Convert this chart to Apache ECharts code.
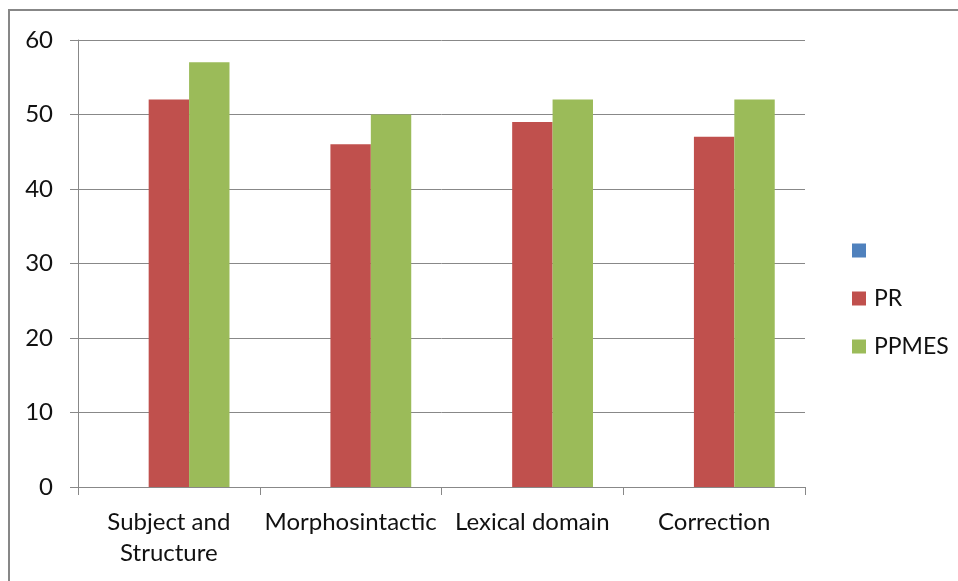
<!DOCTYPE html>
<html>
<head>
<meta charset="utf-8">
<script src="https://cdn.jsdelivr.net/npm/echarts@6/dist/echarts.min.js"></script>
<style>
html,body{margin:0;padding:0;background:#fff;}
#c{width:958px;height:581px;}
</style>
</head>
<body>
<div id="c"></div>
<script>
var categories = ['Subject and\nStructure', 'Morphosintactic', 'Lexical domain', 'Correction'];
var blankSeries = [null, null, null, null];
var prValues = [52, 46, 49, 47];
var ppmesValues = [57, 50, 52, 52];
var yTicks = {min: 0, max: 60, interval: 10};

var font = 'Lato, "Open Sans", sans-serif';
var chart = echarts.init(document.getElementById('c'), null, {renderer: 'canvas'});
chart.setOption({
  animation: false,
  backgroundColor: '#fff',
  graphic: [{
    type: 'rect', z: 100, silent: true,
    shape: {x: 9, y: 10, width: 1200, height: 1200},
    style: {fill: 'none', stroke: '#878787', lineWidth: 2}
  }],
  grid: {left: 78, top: 40, right: 153, bottom: 94, containLabel: false},
  legend: {
    orient: 'vertical', left: 847, top: 234,
    itemWidth: 14, itemHeight: 14, itemGap: 25,
    icon: 'rect',
    textStyle: {fontFamily: font, fontSize: 23, lineHeight: 14, color: '#111', padding: [0,0,0,3]},
    data: [' ', 'PR', 'PPMES']
  },
  xAxis: {
    type: 'category',
    data: categories,
    axisLine: {lineStyle: {color: '#888', width: 1}},
    axisTick: {show: true, length: 8, interval: 0, alignWithLabel: false, lineStyle: {color: '#888'}},
    axisLabel: {fontFamily: font, fontSize: 24, color: '#111', margin: 20, lineHeight: 31, interval: 0}
  },
  yAxis: {
    type: 'value',
    min: yTicks.min, max: yTicks.max, interval: yTicks.interval,
    axisLine: {show: true, lineStyle: {color: '#888'}},
    axisTick: {show: true, length: 8, lineStyle: {color: '#888'}},
    axisLabel: {fontFamily: font, fontSize: 24, color: '#111', margin: 25},
    splitLine: {lineStyle: {color: '#888', width: 1}}
  },
  series: [
    {name: ' ', type: 'bar', data: blankSeries, itemStyle: {color: '#4F81BD'}, barGap: '0%', barCategoryGap: '33.3%'},
    {name: 'PR', type: 'bar', data: prValues, itemStyle: {color: '#C0504D'}, barGap: '0%', barCategoryGap: '33.3%'},
    {name: 'PPMES', type: 'bar', data: ppmesValues, itemStyle: {color: '#9BBB59'}, barGap: '0%', barCategoryGap: '33.3%'}
  ]
});
</script>
</body>
</html>
